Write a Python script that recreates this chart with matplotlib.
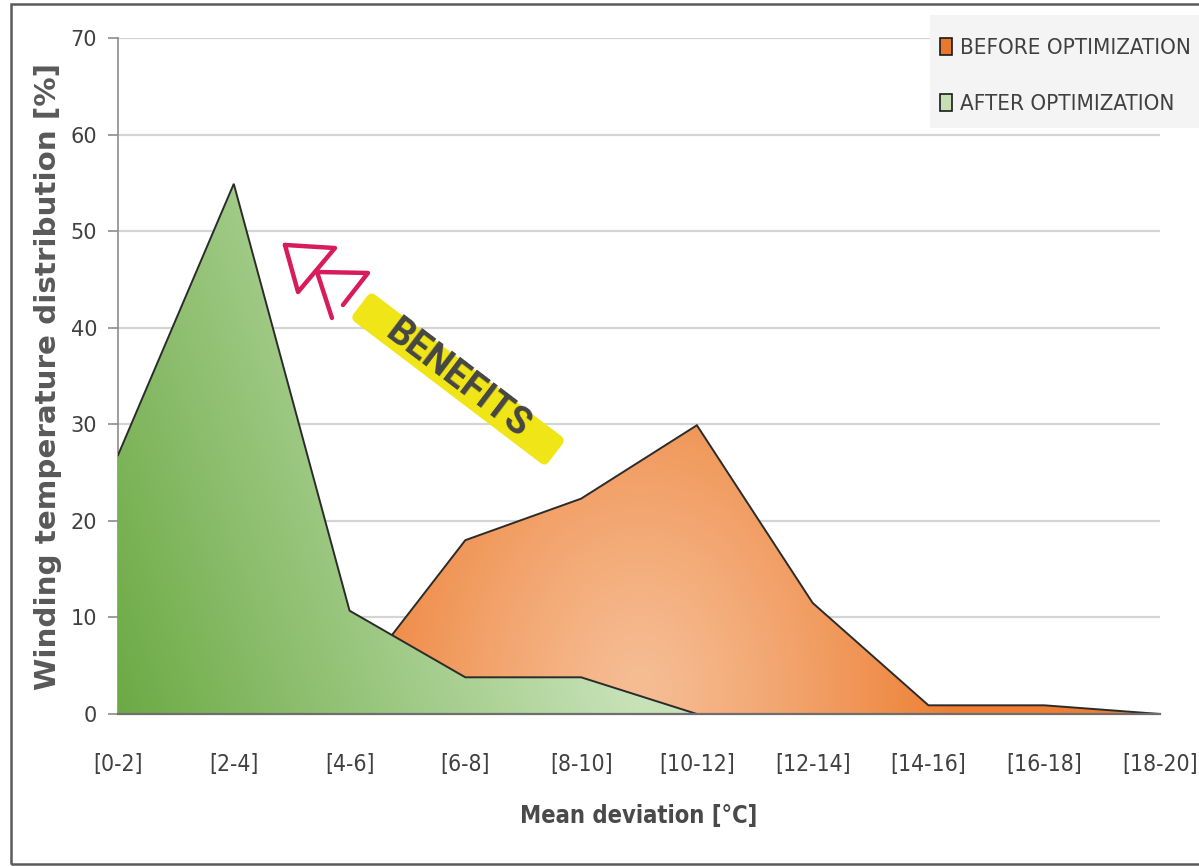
import numpy as np
import matplotlib
matplotlib.use("Agg")
import matplotlib.pyplot as plt
from matplotlib.patches import FancyBboxPatch, Rectangle, Patch
from matplotlib.transforms import Affine2D
from matplotlib.font_manager import FontProperties

# ---- data -------------------------------------------------------------
categories = ["[0-2]", "[2-4]", "[4-6]", "[6-8]", "[8-10]",
              "[10-12]", "[12-14]", "[14-16]", "[16-18]", "[18-20]"]
before_opt = [0, 0.5, 2.5, 18.0, 22.3, 29.9, 11.5, 0.9, 0.9, 0.0]
after_opt = [26.8, 54.9, 10.7, 3.8, 3.8, 0.0, 0.0, 0.0, 0.0, 0.0]
y_ticks = [0, 10, 20, 30, 40, 50, 60, 70]

# double chevron pointing toward the optimized distribution (data units)
chevron_outer = [(1.442, 48.57), (1.874, 48.25), (1.555, 43.70), (1.442, 48.57)]
chevron_inner = [(1.848, 41.01), (1.719, 45.77), (2.159, 45.67), (1.943, 42.35)]

TXT = "#404040"


def narrow(size, weight="normal"):
    return FontProperties(family="DejaVu Sans", stretch="condensed",
                          size=size, weight=weight)


W, H = 1199, 867
fig = plt.figure(figsize=(W / 100, H / 100), dpi=100)
fig.patch.set_facecolor("white")

ax = fig.add_axes([118 / W, 1 - 714 / H, (1160 - 118) / W, (714 - 38) / H])
x = np.arange(len(categories))
ax.set_xlim(0, len(categories) - 1)
ax.set_ylim(0, 70)

# horizontal grid
ax.set_yticks(y_ticks)
ax.yaxis.grid(True, color="#d4d4d4", lw=1.6, zorder=0)
ax.set_axisbelow(True)


def gradient_fill(values, rgb_func, zorder):
    poly = ax.fill_between(x, 0, values, facecolor="none", edgecolor="none",
                           zorder=zorder)
    path = poly.get_paths()[0]
    gx = np.linspace(0, len(categories) - 1, 600)
    gy = np.linspace(0, 70, 400)
    XX, YY = np.meshgrid(gx, gy)
    # positions in pixel-like units to shape the gradient
    px = 118 + XX * (1160 - 118) / (len(categories) - 1)
    py = 714 - YY * (714 - 38) / 70
    img = rgb_func(px, py)
    im = ax.imshow(img, extent=[gx[0], gx[-1], 0, 70], origin="lower",
                   aspect="auto", interpolation="bilinear", zorder=zorder)
    im.set_clip_path(path, transform=ax.transData)
    ax.plot(x, values, color="#2b2b2b", lw=1.4, zorder=zorder + 0.1,
            solid_joinstyle="miter")


def orange_rgb(px, py):
    d = np.sqrt(((px - 640) / 320) ** 2 + ((py - 690) / 420) ** 2)
    t = np.clip(d, 0, 1) ** 1.2
    light = np.array([246, 189, 148]) / 255
    dark = np.array([237, 126, 50]) / 255
    return light[None, None, :] * (1 - t[..., None]) + dark[None, None, :] * t[..., None]


def green_rgb(px, py):
    t = np.clip(((px - 118) + 0.35 * (714 - py)) / 520, 0, 1)
    dark = np.array([108, 170, 68]) / 255
    light = np.array([199, 226, 184]) / 255
    return dark[None, None, :] * (1 - t[..., None]) + light[None, None, :] * t[..., None]


gradient_fill(before_opt, orange_rgb, 2)
gradient_fill(after_opt, green_rgb, 3)

# axes styling
for s in ["top", "right"]:
    ax.spines[s].set_visible(False)
ax.spines["left"].set_color("#8c8c8c")
ax.spines["left"].set_linewidth(1.2)
ax.spines["bottom"].set_color("#6e6e6e")
ax.spines["bottom"].set_linewidth(1.6)
ax.spines["bottom"].set_zorder(5)

ax.set_xticks(x)
ax.set_xticklabels(categories, fontproperties=narrow(16.5), color=TXT)
ax.tick_params(axis="x", length=0, pad=28)
ax.tick_params(axis="y", length=7, width=1.2, color="#8c8c8c", pad=8,
               labelsize=15, labelcolor=TXT)

ax.set_ylabel("Winding temperature distribution [%]", fontsize=21.2,
              fontweight="bold", color="#595959")
ax.yaxis.set_label_coords(-0.054, 0.5)
ax.set_xlabel("Mean deviation [°C]", fontproperties=narrow(17, "bold"),
              color="#4a4a4a")
ax.xaxis.set_label_coords(0.5, -0.133)

# legend on a light panel
fig.patches.append(Rectangle((930 / W, 1 - 128 / H), 0.3, (128 - 15) / H,
                             transform=fig.transFigure, facecolor="#f4f4f4",
                             edgecolor="none", zorder=9))
handles = [Patch(facecolor="#e8782c", edgecolor="#1a1a1a", lw=1.2,
                 label="BEFORE OPTIMIZATION"),
           Patch(facecolor="#c6e0b4", edgecolor="#1a1a1a", lw=1.2,
                 label="AFTER OPTIMIZATION")]
leg = fig.legend(handles=handles, loc="upper left",
                 bbox_to_anchor=(940 / W, 1 - 38 / H),
                 prop=narrow(16), labelcolor=TXT, frameon=False,
                 handlelength=0.55, handleheight=0.8, handletextpad=0.36,
                 labelspacing=1.62, borderpad=0, borderaxespad=0)
leg.set_zorder(10)

# "BENEFITS" tag and chevrons
angle = -37.2
cx, cy = 458 / 100, (H - 379) / 100
bw, bh = 2.45, 0.34
tag = FancyBboxPatch((-bw / 2, -bh / 2), bw, bh,
                     boxstyle="round,pad=0,rounding_size=0.06",
                     facecolor="#f0e516", edgecolor="none",
                     transform=Affine2D().rotate_deg(angle).translate(cx, cy)
                     + fig.dpi_scale_trans, zorder=8)
fig.patches.append(tag)
fig.text(cx / (W / 100), cy / (H / 100), "BENEFITS", rotation=angle,
         rotation_mode="anchor", ha="center", va="center",
         fontproperties=FontProperties(family="Roboto", weight="bold",
                                       size=27),
         color="#454545", zorder=9)

for shape in (chevron_outer, chevron_inner):
    sx, sy = zip(*shape)
    ax.plot(sx, sy, color="#d81b5c", lw=3.2, solid_capstyle="round",
            solid_joinstyle="round", zorder=9, clip_on=False)

# outer frame
fig.patches.append(Rectangle((11 / W, 1 - 864 / H), 1.2, (864 - 4) / H,
                             transform=fig.transFigure, facecolor="none",
                             edgecolor="#5a5a5a", lw=1.8, zorder=0))

fig.savefig("out.png", dpi=100)
